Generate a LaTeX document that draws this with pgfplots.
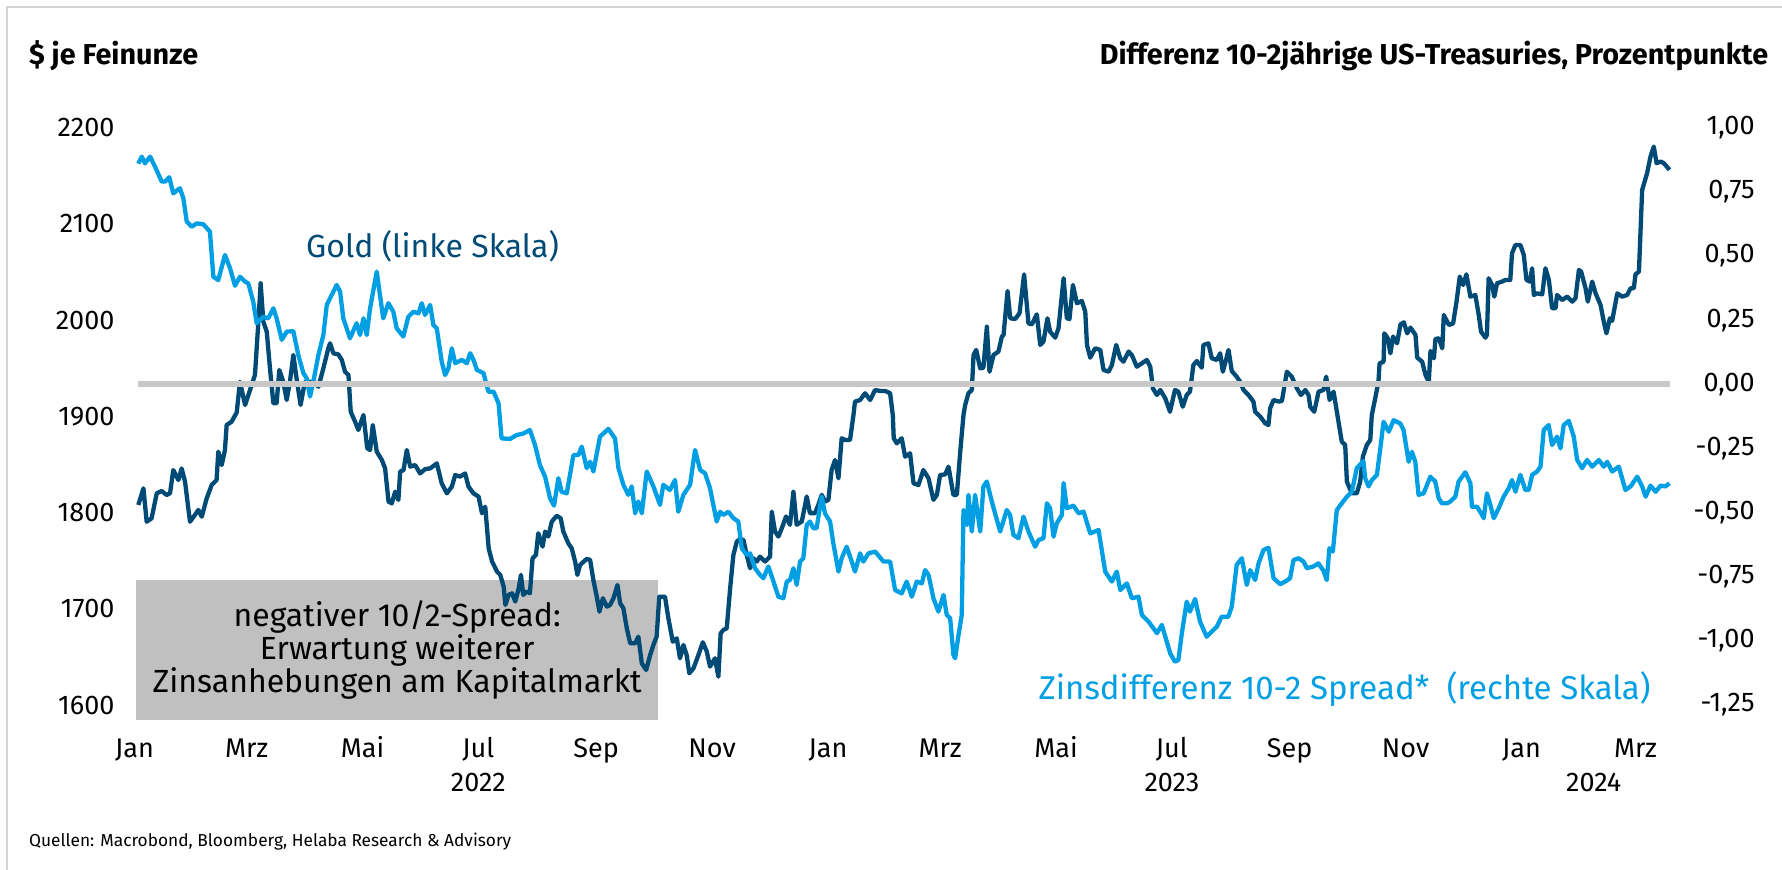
\documentclass[border=0pt]{standalone}
\usepackage{fontspec}
\setmainfont{Fira Sans}
\usepackage{pgfplots}
\usepackage{pgfplotstable}
\pgfplotsset{compat=1.18}
\definecolor{goldc}{HTML}{004A76}
\definecolor{spreadc}{HTML}{009FE3}
\definecolor{zerol}{HTML}{C8C8C8}
\definecolor{boxc}{HTML}{C0C0C0}
\definecolor{framec}{HTML}{D4D4D4}

\pgfplotstableread{
day gold
2.0 1807.9
4.7 1825.2
6.4 1790.5
9.0 1794
11.7 1820.0
14.3 1822.4
16.9 1818.3
18.7 1820
20.4 1844.2
23.1 1833.8
24.8 1845.9
26.6 1832.1
29.2 1790.5
31.8 1797.5
33.6 1802.7
35.4 1795.7
38.0 1814.8
40.6 1828.6
43.2 1833.8
44.1 1863.3
45.9 1849.4
47.6 1865.0
48.5 1891.0
51.1 1894.4
53.8 1904
55.5 1936.0
58.2 1911.8
60.8 1927.4
63.4 1943.0
65.2 1998.4
66.4 2038.3
67.8 1998.4
69.6 1988.0
71.3 1949.9
73.1 1913.6
74.8 1913.6
76.2 1948.2
78.3 1936
80.1 1917
81.8 1936
83.6 1963.8
85.3 1939.5
87.4 1911.8
89.7 1936
92.4 1936
95.0 1934.3
96.8 1930.8
99.4 1949.9
102.0 1970.7
102.9 1975.9
104.7 1965.5
107.3 1964.4
109.1 1958.6
110.8 1946.4
112.6 1943
113.8 1904.8
116.1 1894.4
117.8 1885.8
120.5 1901.4
122.5 1866.8
124.0 1865
125.4 1891
127.5 1863.3
130.2 1854.6
131.9 1845.9
133.7 1811.3
135.4 1809.6
137.2 1821.7
138.9 1813.1
139.8 1842.5
141.6 1844.2
143.3 1865
145.1 1847.7
147.7 1849.4
150.3 1840.7
153.0 1845.2
155.6 1845.9
159.1 1851.1
161.7 1830.3
164.4 1820
167.0 1826.9
168.8 1839
171.4 1837.3
174.0 1840.7
175.8 1826.9
178.4 1820
181.1 1816.5
182.9 1799.2
184.6 1806.1
186.4 1762.9
188.2 1749.1
190.8 1738.7
192.5 1735.2
194.3 1723.0
195.2 1704
196.9 1714.4
198.7 1716.1
200.4 1707.5
202.2 1721.3
203.4 1735.2
204.6 1714.4
206.4 1717.9
208.1 1716.1
209.5 1752.5
211.3 1756
212.5 1778.5
214.8 1764.6
216.1 1780.3
217.8 1775.1
219.6 1790.5
222.2 1796.7
224.3 1794
225.7 1780.3
228.3 1768.1
230.1 1762.9
231.9 1749.1
233.1 1735.2
234.5 1745.6
238.0 1751.8
239.8 1750.8
241.5 1730
243.3 1712.7
244.7 1697
246.5 1711
248.6 1702.3
250.3 1704
252.1 1711
254.2 1724.8
255.6 1705.8
257.3 1700.6
259.1 1679.7
260.9 1664.1
263.5 1664.1
265.2 1671
267.0 1643.3
269.3 1636.4
271.4 1652
273.1 1662.4
274.8 1671
276.2 1712.6
279.2 1712.6
281.0 1690
283.3 1665.8
285.4 1669.3
287.1 1648.5
288.9 1662.4
290.6 1652
292.0 1633
294.2 1638.2
296.8 1652
299.1 1665.2
301.2 1655.5
302.9 1639.9
305.5 1648.5
307.3 1629.5
308.5 1674.5
309.9 1678
311.7 1679.7
313.5 1721.3
315.2 1755.9
317.0 1769.8
318.7 1772.5
320.5 1771.5
322.2 1755.9
324.0 1742.1
325.7 1752.5
327.5 1749.1
329.2 1754.2
331.9 1749.1
334.5 1754.2
335.4 1800.9
337.1 1780.3
338.9 1775.1
340.7 1783.8
342.9 1795.9
345.0 1787.3
346.8 1821.9
348.5 1787.3
351.2 1790.7
353.8 1816.7
355.5 1799.4
358.2 1799.4
359.9 1808
361.7 1818.4
363.4 1811.5
365.2 1813.2
366.9 1844.2
368.7 1854.6
370.5 1835.6
372.2 1877.2
374.0 1875.5
376.6 1875.5
378.4 1901.4
379.2 1915.3
381.9 1917
384.5 1924
387.2 1917
389.8 1927.4
392.4 1926.4
395.1 1926.4
397.7 1924
399.1 1901.4
399.6 1877.2
401.2 1872
403.8 1877.2
405.6 1858.1
408.2 1861.6
410.0 1830.4
412.6 1828.6
415.2 1844.2
417.9 1835.6
420.5 1813.2
422.3 1818.4
424.0 1839
426.7 1839.7
428.4 1847.7
431.0 1818.4
432.8 1818.4
434.6 1863.3
436.3 1901.4
437.2 1911.8
438.9 1924
440.7 1927.4
441.6 1963.8
443.0 1969
445.1 1949.9
446.8 1950.6
448.6 1993.2
450.0 1946.4
452.1 1963.8
454.7 1967.3
456.5 1982.9
457.4 1984.6
459.5 2030.3
460.9 2001.9
463.5 2001.2
465.8 2007.1
468.2 2047.6
470.5 1996.6
472.3 1995.6
474.9 2006
476.7 1974.2
478.4 1977.7
480.5 2001.9
481.9 1988.0
484.6 1981.8
486.3 1991.5
489.0 2043.5
490.7 2001.9
492.1 2001.2
493.9 2036.5
496.0 2017.5
498.6 2019.9
500.4 2008.8
501.3 1974.2
503.0 1961
505.6 1970.7
508.3 1969
510.0 1948.2
512.7 1946.4
514.4 1953.3
516.7 1974.2
518.8 1960.3
520.5 1956.8
523.2 1967.3
524.9 1963.8
527.5 1951.6
530.2 1955.1
532.8 1958.6
534.6 1951.6
536.0 1929.1
538.1 1922.2
539.9 1927.4
542.5 1918.7
545.0 1904.8
547.6 1927.4
549.4 1925.6
551.7 1910
553.8 1922.2
555.5 1925.6
557.3 1953.3
559.1 1957.5
561.7 1950.6
562.6 1974.2
565.2 1975.9
567.0 1960.3
569.6 1958.6
571.4 1965.5
572.8 1946.4
574.0 1955.1
575.8 1969
577.5 1947.1
580.1 1941.2
581.9 1936
583.7 1927.4
586.3 1922.2
588.9 1915.3
589.8 1904.8
592.5 1899.7
595.1 1892.8
596.8 1891
597.7 1908.4
599.5 1917
602.1 1915.3
603.9 1916
606.5 1946.4
609.1 1941.2
611.8 1929.1
613.9 1922.2
616.2 1927.4
617.9 1922.2
618.8 1910
620.9 1904.8
623.2 1925.6
625.8 1927.4
627.2 1941.2
629.0 1917
631.1 1925.6
632.8 1905
635.4 1873.7
637.2 1870.3
638.1 1832.1
640.7 1820
643.3 1820
645.1 1832.1
646.5 1858.1
648.6 1870.3
650.4 1875.5
651.2 1901.4
653.0 1918.7
654.7 1936
655.3 1955.1
657.4 1956.8
657.8 1986.3
659.6 1981.1
661.0 1965.5
662.4 1982.9
664.5 1975.9
666.3 1995.6
668.1 1997.7
669.8 1986.3
671.6 1992.2
674.2 1984.6
675.1 1961
677.7 1956.8
679.5 1942.9
681.2 1936
682.1 1967.9
683.9 1960.3
684.7 1980.4
686.5 1981.1
688.3 1970.7
689.1 2005.3
691.8 1994.9
694.0 1996.6
695.8 2019.2
697.5 2045.2
699.3 2036.5
701.0 2047.6
703.1 2024.4
705.7 2026.1
707.5 2005.3
708.7 1988
711.0 1981.8
711.8 1984.6
712.7 2043.5
714.5 2036.5
715.7 2024.4
717.1 2038.3
719.7 2040
721.5 2041.8
724.1 2041.8
725.0 2069.4
726.8 2078.1
729.4 2078.1
731.2 2067.7
732.6 2041.8
734.4 2040
735.6 2053.9
736.5 2026.1
738.2 2027.8
740.9 2026.8
742.6 2053.9
744.4 2041.8
746.1 2012.3
747.9 2012.3
748.7 2026.1
751.4 2020.9
754.0 2024.4
756.7 2019.2
758.4 2022.6
760.2 2052.1
761.4 2050.4
763.7 2033.1
764.9 2019.2
767.2 2040
769.0 2027.8
771.6 2015.7
773.3 1998.4
774.7 1986.3
776.5 2001.9
777.7 1999.2
780.4 2027.8
783.0 2024.4
785.6 2026.1
787.4 2033.1
789.1 2033.1
790.0 2047.6
791.8 2050.4
793.5 2135.3
796.1 2152.7
797.9 2170
799.6 2180.4
801.1 2163.1
803.2 2164.8
804.9 2163.1
807.9 2156.2
}\golddata

\pgfplotstableread{
day spread
2.0 0.860
3.8 0.887
5.5 0.861
8.2 0.887
10.8 0.848
14.3 0.790
16.1 0.790
18.3 0.807
20.4 0.744
23.9 0.764
25.7 0.725
27.5 0.634
30.1 0.614
32.8 0.627
36.2 0.624
39.7 0.595
41.5 0.419
44.1 0.406
47.6 0.504
50.3 0.452
52.9 0.384
55.5 0.419
58.2 0.400
59.9 0.393
62.5 0.322
64.3 0.238
67.8 0.263
70.4 0.257
73.1 0.296
74.8 0.257
77.5 0.173
80.1 0.205
83.6 0.207
86.2 0.114
88.9 0.043
90.6 0.024
92.4 -0.048
94.1 0.010
96.8 0.114
99.4 0.192
101.2 0.309
102.9 0.335
106.4 0.387
108.2 0.361
109.9 0.257
113.4 0.179
116.9 0.238
118.7 0.192
120.5 0.257
122.2 0.192
124.0 0.296
127.5 0.439
130.9 0.257
133.6 0.316
136.2 0.283
138.0 0.218
141.5 0.186
144.1 0.263
146.8 0.283
149.4 0.276
151.2 0.316
152.9 0.270
155.6 0.309
157.3 0.231
159.1 0.218
161.7 0.088
163.5 0.036
165.2 0.062
167.0 0.140
168.8 0.082
172.3 0.095
174.9 0.082
176.7 0.121
178.4 0.095
180.2 0.056
183.7 0.043
186.3 -0.029
189.0 -0.029
191.6 -0.074
193.2 -0.211
197.6 -0.213
201.1 -0.198
204.6 -0.192
208.1 -0.178
210.8 -0.237
213.4 -0.315
216.1 -0.360
218.7 -0.444
220.8 -0.473
223.1 -0.366
224.8 -0.419
227.5 -0.425
231.0 -0.276
233.6 -0.276
235.4 -0.243
238.0 -0.327
239.8 -0.302
241.5 -0.340
245.0 -0.204
249.4 -0.174
252.9 -0.211
254.7 -0.327
257.3 -0.392
259.9 -0.431
261.7 -0.398
263.5 -0.503
265.2 -0.457
267.0 -0.503
269.6 -0.340
273.1 -0.398
276.6 -0.470
278.3 -0.392
281.8 -0.412
284.5 -0.373
286.2 -0.497
288.9 -0.431
292.4 -0.392
295.0 -0.256
297.7 -0.334
300.3 -0.347
302.9 -0.405
306.4 -0.535
308.2 -0.497
309.9 -0.509
312.6 -0.497
315.2 -0.522
317.8 -0.535
319.6 -0.639
322.2 -0.665
324.0 -0.659
326.6 -0.717
329.2 -0.743
331.0 -0.756
333.6 -0.710
336.3 -0.769
338.9 -0.828
341.5 -0.834
343.3 -0.769
345.0 -0.763
346.8 -0.717
348.5 -0.782
350.3 -0.691
352.0 -0.678
353.8 -0.548
355.5 -0.535
357.3 -0.561
359.0 -0.561
360.8 -0.477
361.7 -0.438
363.4 -0.503
366.1 -0.535
367.8 -0.620
370.5 -0.730
372.2 -0.678
374.8 -0.633
377.5 -0.691
379.2 -0.730
381.9 -0.659
383.6 -0.691
386.3 -0.659
389.8 -0.652
394.2 -0.691
397.7 -0.691
400.3 -0.802
403.8 -0.815
406.4 -0.769
409.1 -0.828
411.7 -0.769
414.4 -0.776
416.1 -0.724
417.9 -0.743
420.5 -0.834
423.1 -0.886
425.8 -0.821
427.5 -0.899
429.3 -0.912
431.0 -1.055
431.9 -1.068
433.7 -0.977
435.4 -0.899
436.3 -0.490
438.1 -0.548
438.9 -0.431
440.7 -0.574
442.4 -0.431
445.1 -0.574
446.8 -0.398
448.6 -0.379
451.2 -0.457
455.6 -0.574
459.1 -0.490
460.8 -0.509
462.6 -0.587
465.2 -0.600
467.9 -0.516
470.5 -0.574
474.0 -0.633
475.8 -0.607
478.4 -0.600
480.2 -0.464
481.9 -0.483
483.7 -0.594
485.4 -0.542
488.1 -0.509
489.0 -0.385
490.7 -0.483
494.2 -0.473
496.9 -0.503
499.5 -0.496
503.0 -0.581
507.4 -0.568
510.9 -0.730
514.4 -0.769
517.0 -0.730
518.8 -0.802
522.3 -0.776
524.9 -0.834
528.4 -0.828
530.2 -0.899
533.7 -0.925
538.1 -0.970
540.7 -0.938
543.3 -1.003
545.1 -1.049
547.6 -1.081
549.4 -1.075
551.1 -0.977
553.8 -0.847
555.5 -0.886
558.2 -0.837
560.8 -0.925
564.3 -0.984
566.9 -0.964
569.6 -0.945
572.2 -0.906
575.7 -0.906
577.5 -0.867
580.1 -0.704
582.8 -0.678
585.4 -0.782
587.2 -0.724
589.8 -0.763
591.6 -0.698
594.2 -0.646
596.8 -0.637
599.5 -0.756
603.0 -0.779
605.6 -0.769
608.2 -0.756
610.0 -0.685
612.6 -0.678
615.3 -0.691
617.0 -0.717
620.5 -0.710
623.1 -0.698
625.8 -0.727
627.5 -0.763
628.9 -0.639
630.7 -0.652
632.8 -0.490
635.4 -0.464
638.1 -0.438
640.7 -0.419
643.3 -0.327
646.8 -0.299
647.7 -0.366
649.5 -0.398
651.3 -0.373
653.9 -0.353
655.7 -0.249
657.4 -0.146
660.1 -0.185
662.7 -0.140
666.2 -0.153
667.9 -0.178
670.6 -0.302
672.3 -0.263
674.1 -0.302
675.8 -0.431
678.5 -0.425
682.0 -0.360
684.6 -0.379
686.4 -0.444
688.1 -0.464
690.8 -0.464
692.5 -0.457
695.2 -0.438
696.9 -0.379
700.4 -0.343
703.1 -0.386
703.9 -0.477
706.6 -0.477
709.2 -0.509
710.1 -0.522
711.8 -0.425
713.6 -0.470
715.4 -0.522
718.0 -0.483
720.6 -0.438
723.3 -0.405
725.0 -0.373
726.8 -0.419
729.4 -0.353
732.0 -0.412
733.8 -0.412
735.6 -0.353
738.2 -0.340
740.0 -0.321
741.7 -0.178
744.3 -0.159
746.1 -0.237
748.7 -0.204
750.5 -0.250
752.2 -0.159
754.9 -0.143
757.5 -0.204
759.3 -0.295
761.9 -0.327
764.5 -0.295
767.2 -0.321
770.7 -0.295
773.3 -0.321
775.1 -0.302
777.7 -0.340
781.2 -0.321
784.7 -0.412
787.4 -0.398
790.9 -0.360
793.5 -0.398
795.3 -0.438
797.9 -0.395
800.6 -0.419
803.2 -0.395
805.8 -0.398
807.9 -0.386
}\spreaddata

\pgfplotsset{
  base/.style={
    at={(67.25pt,82.49pt)}, anchor=south west,
    scale only axis, width=769.5pt, height=288.66pt,
    xmin=0, xmax=810,
    axis line style={draw=none},
    major tick length=0pt,
    clip=false,
    /pgf/number format/assume math mode=true,
    ticklabel style={font=\fontsize{13.5}{16}\selectfont, inner sep=0pt},
  }
}

\begin{document}
\begin{tikzpicture}
\useasboundingbox (0,0) rectangle (891pt,435pt);
\draw[framec, line width=1.2pt] (3.5pt,0pt) -- (3.5pt,431.5pt) -- (891pt,431.5pt);

% annotation box
\fill[boxc] (67.85pt,75pt) rectangle (329.15pt,145pt);
\node[align=center, inner sep=0pt, font=\fontsize{16}{16.67}\selectfont] at (198.6pt,110pt)
  {negativer 10/2-Spread:\\Erwartung weiterer\\Zinsanhebungen am Kapitalmarkt};

\begin{axis}[base,
  ymin=1600, ymax=2200,
  ytick={1600,1700,1800,1900,2000,2100,2200},
  yticklabels={1600,1700,1800,1900,2000,2100,2200},
  yticklabel style={anchor=east, xshift=-9.85pt},
  xtick={0,59,120,181,243,304,365,424,485,546,608,669,730,790},
  xticklabels={Jan,Mrz,Mai,Jul,Sep,Nov,Jan,Mrz,Mai,Jul,Sep,Nov,Jan,Mrz},
  xticklabel style={anchor=base, yshift=-26.2pt},
]
\addplot[goldc, line width=2.15pt, line join=round] table[x=day, y=gold] {\golddata};
\node[anchor=base, font=\fontsize{13.5}{16}\selectfont, yshift=-43pt] at (axis cs:181,1600) {2022};
\node[anchor=base, font=\fontsize{13.5}{16}\selectfont, yshift=-43pt] at (axis cs:546,1600) {2023};
\node[anchor=base, font=\fontsize{13.5}{16}\selectfont, yshift=-43pt] at (axis cs:768,1600) {2024};
\end{axis}

\begin{axis}[base,
  ymin=-1.25, ymax=1,
  ytick={-1.25,-1,-0.75,-0.5,-0.25,0,0.25,0.5,0.75,1},
  yticklabels={{-1,25},{-1,00},{-0,75},{-0,50},{-0,25},{0,00},{0,25},{0,50},{0,75},{1,00}},
  yticklabel pos=right,
  yticklabel style={anchor=east, xshift=40.75pt},
  xtick=\empty,
]
\addplot[spreadc, line width=2.15pt, line join=round] table[x=day, y=spread] {\spreaddata};
\addplot[zerol, line width=3pt] coordinates {(2,0) (808,0)};
\end{axis}

% titles and labels
\node[anchor=base west, inner sep=0pt, font=\fontsize{14.4}{16}\selectfont\bfseries] at (14.35pt,402.5pt) {\$ je Feinunze};
\node[anchor=base east, inner sep=0pt, font=\fontsize{14.4}{16}\selectfont\bfseries] at (884.3pt,402.5pt) {Differenz 10-2jährige US-Treasuries, Prozentpunkte};
\node[anchor=base, inner sep=0pt, text=goldc, font=\fontsize{16}{18}\selectfont] at (216.25pt,306.15pt) {Gold (linke Skala)};
\node[anchor=base west, inner sep=0pt, text=spreadc, font=\fontsize{16.5}{18}\selectfont] at (519.15pt,85pt) {Zinsdifferenz 10-2 Spread*\ \ (rechte Skala)};
\node[anchor=base west, inner sep=0pt, font=\fontsize{8.65}{11}\selectfont] at (14.35pt,11.65pt) {Quellen: Macrobond, Bloomberg, Helaba Research \& Advisory};
\end{tikzpicture}
\end{document}
